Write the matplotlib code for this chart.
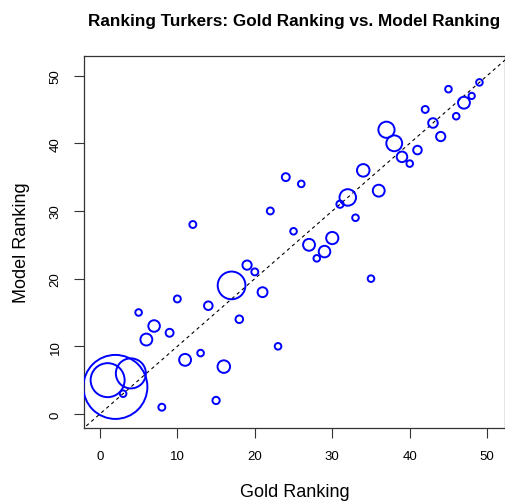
import matplotlib
matplotlib.use("Agg")
import matplotlib.pyplot as plt
import numpy as np

plt.rcParams['font.family'] = ['Liberation Sans', 'DejaVu Sans']

# Gold rank of each turker and the rank the model assigned
gold_rank = list(range(1, 50))
model_rank = [5, 4, 3, 6, 15, 11, 13, 1, 12, 17, 8, 28, 9, 16, 2, 7, 19, 14, 22, 21,
              18, 30, 10, 35, 27, 34, 25, 23, 24, 26, 31, 32, 29, 36, 20, 33, 42, 40,
              38, 37, 39, 45, 43, 41, 48, 44, 46, 47, 49]
# relative symbol size (cex) per turker
symbol_cex = [5.15, 9.7, 1.0, 4.55, 1.0, 1.8, 1.75, 1.05, 1.2, 1.05, 1.8, 1.05, 1.0,
              1.3, 1.1, 1.9, 4.2, 1.15, 1.4, 1.05, 1.5, 1.05, 1.0, 1.2, 1.0, 1.0,
              1.8, 1.0, 1.75, 1.85, 1.1, 2.5, 1.0, 1.9, 1.0, 1.8, 2.45, 2.4, 1.6,
              1.0, 1.3, 1.05, 1.45, 1.4, 1.0, 1.0, 1.8, 0.95, 1.0]
ticks = [0, 10, 20, 30, 40, 50]

W, H, DPI = 506, 502, 100
fig = plt.figure(figsize=(W / DPI, H / DPI), dpi=DPI)
ax = fig.add_axes([84 / W, (H - 429) / H, (505 - 84) / W, (429 - 57) / H])

base_r_px = 3.3
px_to_pt = 72.0 / DPI
diam_pt = np.array(symbol_cex) * base_r_px * 2 * px_to_pt
ax.scatter(gold_rank, model_rank, s=diam_pt ** 2, facecolors='none',
           edgecolors='#0000FF', linewidths=1.4, zorder=3)

ax.plot([-5, 60], [-5, 60], color='black', linestyle=(0, (3, 3)), linewidth=0.8, zorder=2)

ax.set_xlim(-2.05, 52.3)
ax.set_ylim(-2.07, 52.9)
ax.set_xticks(ticks)
ax.set_yticks(ticks)
ax.set_yticklabels([str(t) for t in ticks], rotation=90, va='center')
ax.tick_params(direction='out', length=7, width=0.8, labelsize=9.5, pad=9,
               color='#333333')
for s in ax.spines.values():
    s.set_linewidth(0.9)
    s.set_color('#333333')

ax.set_xlabel('Gold Ranking', fontsize=13, labelpad=15)
ax.set_ylabel('Model Ranking', fontsize=13, labelpad=14)
ax.set_title('Ranking Turkers: Gold Ranking vs. Model Ranking', fontsize=12.3,
             fontweight='bold', pad=22)

fig.savefig('out.png', dpi=DPI)
